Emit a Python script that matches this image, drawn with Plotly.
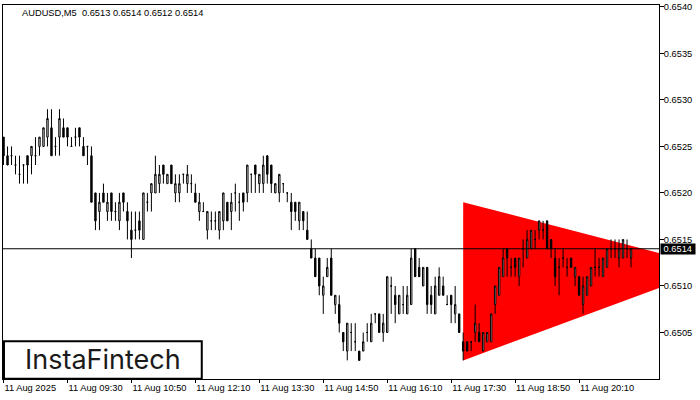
import plotly.graph_objects as go

symbol = "AUDUSD,M5"
header_values = ["0.6513", "0.6514", "0.6512", "0.6514"]

opens = [
    0.6526,0.6524,0.6524,0.6523,0.6522,0.6523,0.6524,0.6524,0.6524,0.6525,
    0.6525,0.6526,0.6527,0.6525,0.6526,0.6527,0.6527,0.6525,0.6526,0.6527,
    0.6525,0.6525,0.6524,0.6520,0.6518,0.6520,0.6518,0.6520,0.6518,0.6517,
    0.6520,0.6518,0.6516,0.6516,0.6517,0.6515,0.6519,0.6520,0.6520,0.6521,
    0.6523,0.6521,0.6523,0.6520,0.6520,0.6522,0.6521,0.6521,0.6520,0.6518,
    0.6518,0.6516,0.6517,0.6517,0.6516,0.6517,0.6519,0.6518,0.6520,0.6519,
    0.6520,0.6520,0.6522,0.6523,0.6521,0.6521,0.6524,0.6523,0.6520,0.6520,
    0.6521,0.6520,0.6519,0.6519,0.6517,0.6518,0.6516,0.6514,0.6513,0.6513,
    0.6509,0.6511,0.6513,0.6508,0.6508,0.6505,0.6503,0.6505,0.6504,0.6503,
    0.6503,0.6505,0.6504,0.6507,0.6507,0.6505,0.6505,0.6510,0.6509,0.6507,
    0.6508,0.6507,0.6508,0.6514,0.6512,0.6510,0.6512,0.6509,0.6507,0.6509,
    0.6510,0.6508,0.6509,0.6507,0.6507,0.6504,0.6504,0.6504,0.6505,0.6505,
    0.6503,0.6504,0.6504,0.6508,0.6509,0.6511,0.6514,0.6512,0.6513,0.6511,
    0.6514,0.6513,0.6514,0.6515,0.6516,0.6516,0.6517,0.6515,0.6513,0.6512,
    0.6513,0.6512,0.6513,0.6511,0.6511,0.6508,0.6509,0.6510,0.6512,0.6512,
    0.6511,0.6512,0.6514,0.6514,0.6513,0.6513,0.6514,0.6513,
]
highs = [
    0.6526,0.6525,0.6525,0.6524,0.6524,0.6523,0.6524,0.6525,0.6526,0.6526,
    0.6527,0.6529,0.6529,0.6526,0.6529,0.6528,0.6527,0.6526,0.6527,0.6527,
    0.6526,0.6525,0.6525,0.6520,0.6520,0.6521,0.6520,0.6520,0.6519,0.6520,
    0.6520,0.6519,0.6518,0.6518,0.6518,0.6520,0.6520,0.6521,0.6524,0.6523,
    0.6523,0.6522,0.6523,0.6522,0.6522,0.6522,0.6523,0.6522,0.6521,0.6520,
    0.6519,0.6518,0.6518,0.6518,0.6518,0.6520,0.6519,0.6520,0.6521,0.6520,
    0.6520,0.6523,0.6522,0.6523,0.6522,0.6524,0.6524,0.6523,0.6521,0.6522,
    0.6521,0.6520,0.6520,0.6519,0.6519,0.6518,0.6518,0.6515,0.6514,0.6513,
    0.6511,0.6513,0.6514,0.6509,0.6509,0.6505,0.6506,0.6506,0.6506,0.6503,
    0.6505,0.6506,0.6507,0.6507,0.6507,0.6507,0.6511,0.6511,0.6510,0.6509,
    0.6510,0.6510,0.6514,0.6514,0.6513,0.6512,0.6512,0.6510,0.6511,0.6512,
    0.6511,0.6509,0.6509,0.6510,0.6507,0.6505,0.6504,0.6504,0.6508,0.6506,
    0.6505,0.6505,0.6507,0.6510,0.6512,0.6514,0.6514,0.6513,0.6513,0.6513,
    0.6515,0.6516,0.6516,0.6516,0.6517,0.6517,0.6517,0.6515,0.6514,0.6513,
    0.6514,0.6513,0.6513,0.6512,0.6511,0.6511,0.6511,0.6512,0.6514,0.6513,
    0.6513,0.6514,0.6515,0.6515,0.6515,0.6515,0.6515,0.6514,
]
lows = [
    0.6523,0.6523,0.6523,0.6522,0.6521,0.6521,0.6521,0.6522,0.6523,0.6524,
    0.6525,0.6525,0.6524,0.6524,0.6524,0.6526,0.6525,0.6525,0.6525,0.6525,
    0.6524,0.6523,0.6519,0.6516,0.6516,0.6519,0.6517,0.6517,0.6517,0.6516,
    0.6518,0.6515,0.6513,0.6515,0.6515,0.6515,0.6518,0.6518,0.6520,0.6520,
    0.6521,0.6521,0.6521,0.6519,0.6519,0.6521,0.6520,0.6520,0.6519,0.6517,
    0.6518,0.6515,0.6516,0.6516,0.6515,0.6516,0.6517,0.6516,0.6518,0.6517,
    0.6518,0.6519,0.6520,0.6520,0.6520,0.6520,0.6521,0.6520,0.6520,0.6519,
    0.6520,0.6519,0.6516,0.6517,0.6516,0.6516,0.6515,0.6513,0.6511,0.6509,
    0.6507,0.6511,0.6509,0.6507,0.6505,0.6503,0.6502,0.6503,0.6503,0.6502,
    0.6503,0.6504,0.6504,0.6506,0.6505,0.6504,0.6505,0.6507,0.6506,0.6507,
    0.6507,0.6507,0.6508,0.6511,0.6511,0.6510,0.6507,0.6507,0.6507,0.6509,
    0.6509,0.6508,0.6506,0.6506,0.6505,0.6502,0.6503,0.6503,0.6504,0.6504,
    0.6503,0.6504,0.6504,0.6507,0.6509,0.6511,0.6511,0.6511,0.6511,0.6510,
    0.6512,0.6513,0.6514,0.6514,0.6515,0.6515,0.6514,0.6513,0.6510,0.6509,
    0.6512,0.6511,0.6512,0.6510,0.6509,0.6507,0.6509,0.6510,0.6511,0.6511,
    0.6511,0.6512,0.6513,0.6513,0.6512,0.6513,0.6513,0.6512,
]
closes = [
    0.6524,0.6523,0.6524,0.6523,0.6522,0.6523,0.6523,0.6525,0.6524,0.6526,
    0.6527,0.6528,0.6524,0.6525,0.6528,0.6526,0.6526,0.6525,0.6526,0.6526,
    0.6524,0.6525,0.6519,0.6517,0.6519,0.6519,0.6519,0.6518,0.6518,0.6519,
    0.6519,0.6517,0.6515,0.6516,0.6516,0.6520,0.6519,0.6521,0.6522,0.6522,
    0.6522,0.6522,0.6521,0.6521,0.6521,0.6522,0.6522,0.6521,0.6519,0.6519,
    0.6518,0.6518,0.6517,0.6517,0.6518,0.6520,0.6517,0.6519,0.6520,0.6519,
    0.6519,0.6523,0.6522,0.6522,0.6522,0.6523,0.6522,0.6521,0.6521,0.6522,
    0.6521,0.6520,0.6518,0.6518,0.6519,0.6517,0.6515,0.6513,0.6511,0.6510,
    0.6510,0.6512,0.6509,0.6509,0.6506,0.6504,0.6506,0.6505,0.6504,0.6502,
    0.6504,0.6505,0.6506,0.6507,0.6505,0.6506,0.6511,0.6510,0.6508,0.6509,
    0.6508,0.6509,0.6513,0.6511,0.6511,0.6512,0.6508,0.6508,0.6510,0.6511,
    0.6509,0.6508,0.6508,0.6508,0.6505,0.6503,0.6503,0.6504,0.6506,0.6504,
    0.6505,0.6505,0.6507,0.6510,0.6512,0.6513,0.6513,0.6512,0.6512,0.6513,
    0.6514,0.6515,0.6516,0.6515,0.6517,0.6516,0.6514,0.6514,0.6511,0.6512,
    0.6513,0.6512,0.6512,0.6512,0.6509,0.6510,0.6511,0.6512,0.6512,0.6512,
    0.6513,0.6514,0.6514,0.6514,0.6514,0.6515,0.6514,0.6514,
]

# bar index of each x-axis label (5-minute bars starting 08:10)
tick_bars = [0, 16, 32, 48, 64, 80, 96, 112, 128, 144]
tick_labels = ["11 Aug 2025", "11 Aug 09:30", "11 Aug 10:50", "11 Aug 12:10",
               "11 Aug 13:30", "11 Aug 14:50", "11 Aug 16:10", "11 Aug 17:30",
               "11 Aug 18:50", "11 Aug 20:10"]
ytick_values = [0.6505, 0.6510, 0.6515, 0.6520, 0.6525, 0.6530, 0.6535, 0.6540]
y_range = [0.65, 0.65402]
x_range_bars = [-0.13, 164]
current_price = 0.6514

# symmetrical triangle pattern (bar index, price)
triangle_bars = [115, 115, 178]
triangle_prices = [0.6519, 0.6502, 0.6512]

logo_text = "InstaFintech"

bars = list(range(len(opens)))

fig = go.Figure()

fig.add_trace(go.Candlestick(
    x=bars, open=opens, high=highs, low=lows, close=closes,
    increasing=dict(fillcolor="#ffffff", line=dict(color="#000000", width=1)),
    decreasing=dict(fillcolor="#000000", line=dict(color="#000000", width=1)),
    whiskerwidth=0, showlegend=False, hoverinfo="skip",
))

tri_path = "M " + " L ".join(f"{b},{p}" for b, p in zip(triangle_bars, triangle_prices)) + " Z"
fig.add_shape(type="path", xref="x", yref="y", path=tri_path,
              fillcolor="#ff0000", line=dict(width=0), layer="below")

font_main = dict(family="Liberation Sans, Arial, sans-serif", size=9.3, color="#000000")

fig.update_layout(
    width=700, height=400,
    margin=dict(l=2, r=41, t=2, b=21),
    paper_bgcolor="#ffffff", plot_bgcolor="#ffffff",
    showlegend=False, boxgap=0.5,
    font=font_main,
    xaxis=dict(
        range=x_range_bars,
        rangeslider=dict(visible=False),
        showgrid=False, zeroline=False,
        showline=True, linecolor="#000000", linewidth=1, mirror=True,
        tickmode="array", tickvals=tick_bars, ticktext=tick_labels,
        ticks="outside", ticklen=3, tickcolor="#000000", tickwidth=1,
        ticklabelposition="outside right", ticklabeloverflow="allow",
        tickfont=font_main,
    ),
    yaxis=dict(
        side="right", range=y_range,
        showgrid=False, zeroline=False,
        showline=True, linecolor="#000000", linewidth=1, mirror=True,
        tickmode="array", tickvals=ytick_values,
        ticktext=[f"{v:.4f}" for v in ytick_values],
        ticks="outside", ticklen=4, tickcolor="#000000", tickwidth=1,
        ticklabeloverflow="allow", ticklabelstandoff=-2,
        tickfont=font_main,
    ),
)

# current price line
fig.add_shape(type="line", xref="paper", yref="y", x0=0, x1=1,
              y0=current_price, y1=current_price,
              line=dict(color="#000000", width=1), layer="above")

# current price label on the axis
fig.add_annotation(xref="paper", yref="y", x=1, y=current_price,
                   xanchor="left", yanchor="middle", xshift=1,
                   text="\u00a0" + f"{current_price:.4f}" + "\u00a0",
                   showarrow=False, bgcolor="#000000", borderpad=0,
                   font=dict(family="Liberation Sans, Arial, sans-serif", size=9.3, color="#ffffff"))

# header
fig.add_annotation(xref="paper", yref="paper", x=0.026, y=0.978,
                   xanchor="left", yanchor="middle",
                   text=symbol + "\u00a0\u00a0" + " ".join(header_values),
                   showarrow=False, font=font_main)

# logo box
fig.add_shape(type="rect", xref="paper", yref="paper",
              x0=0.0015, x1=0.303, y0=0.001, y1=0.1008,
              line=dict(color="#000000", width=2), fillcolor="#ffffff", layer="above")
fig.add_annotation(xref="paper", yref="paper", x=0.1525, y=0.051,
                   xanchor="center", yanchor="middle", text=logo_text, showarrow=False,
                   font=dict(family="Inter, Lato, sans-serif", size=27, color="#1a1a1a"))

fig.write_html("out.html", config={"displayModeBar": False},
               post_script="document.body.style.margin='0px';")
